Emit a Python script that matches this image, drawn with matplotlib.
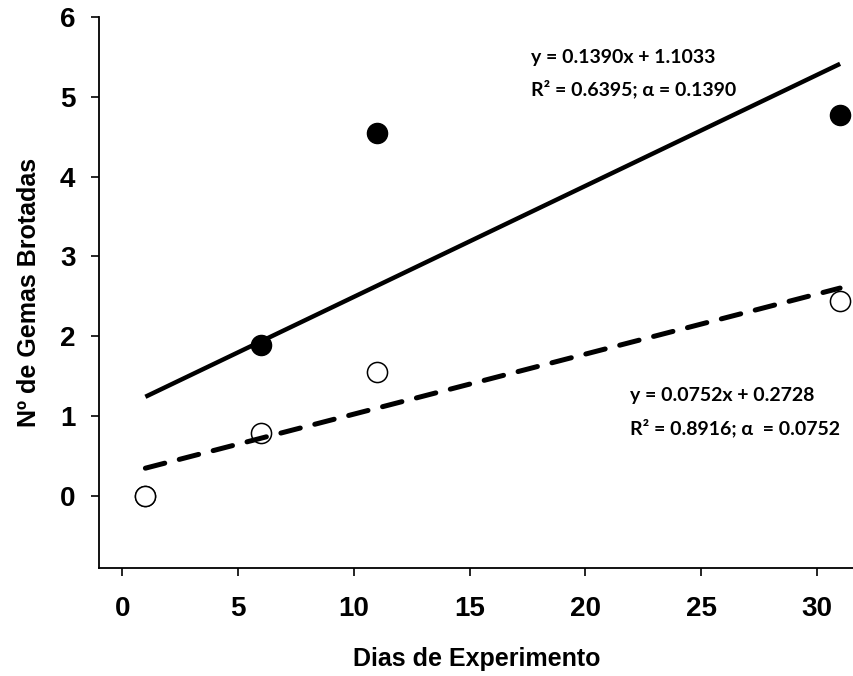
import numpy as np
import matplotlib
matplotlib.use("Agg")
import matplotlib.pyplot as plt

plt.rcParams['font.family'] = ['Liberation Sans', 'DejaVu Sans']

# dias de experimento
dias = [1, 6, 11, 31]
# gemas brotadas (tratamiento lleno / vacio)
gemas_llenos = [0.0, 1.89, 4.55, 4.77]
gemas_vacios = [0.0, 0.79, 1.55, 2.44]

# ajustes lineales
coef_llenos = (0.1390, 1.1033)
coef_vacios = (0.0752, 0.2728)

xticks = [0, 5, 10, 15, 20, 25, 30]
yticks = [0, 1, 2, 3, 4, 5, 6]

fig = plt.figure(figsize=(8.54, 6.76), dpi=100)
ax = fig.add_axes([0.116, 0.160, 0.884, 0.815])

# puntos primero, las rectas van encima
ax.plot(dias, gemas_llenos, 'o', color='black', ms=14.5, zorder=2)
ax.plot(dias, gemas_vacios, 'o', mfc='white', mec='black', mew=1.1, ms=14.5, zorder=2)

xl = np.array([dias[0], dias[-1]])
ax.plot(xl, coef_llenos[0]*xl + coef_llenos[1], color='black', lw=3.2,
        solid_capstyle='butt', zorder=3)
ax.plot(xl, coef_vacios[0]*xl + coef_vacios[1], color='black', lw=3.6,
        dashes=(4, 3), dash_capstyle='round', zorder=3)

ax.set_xlim(-1, 31.6)
ax.set_ylim(-0.9, 6)
ax.set_xticks(xticks)
ax.set_yticks(yticks)
ax.spines['top'].set_visible(False)
ax.spines['right'].set_visible(False)
for s in ['left', 'bottom']:
    ax.spines[s].set_linewidth(1.3)
ax.tick_params(direction='out', length=6, width=1.2, labelsize=20)
ax.tick_params(axis='x', pad=14)
ax.tick_params(axis='y', pad=11)
for lab in ax.get_xticklabels() + ax.get_yticklabels():
    lab.set_fontweight('bold')

ax.set_xlabel('Dias de Experimento', fontsize=18, fontweight='bold', labelpad=18)
ax.set_ylabel('Nº de Gemas Brotadas', fontsize=18, fontweight='bold', labelpad=14)

fnt = dict(fontsize=14, fontweight='bold', family=['Lato', 'DejaVu Sans'],
           transform=fig.transFigure, va='center', ha='left')
fig.text(531/854, 1-57/676, 'y = 0.1390x + 1.1033', **fnt)
fig.text(531/854, 1-89/676, 'R² = 0.6395; α = 0.1390', **fnt)
fig.text(630/854, 1-395/676, 'y = 0.0752x + 0.2728', **fnt)
fig.text(630/854, 1-428/676, 'R² = 0.8916; α  = 0.0752', **fnt)

fig.savefig('out.png', dpi=100)
